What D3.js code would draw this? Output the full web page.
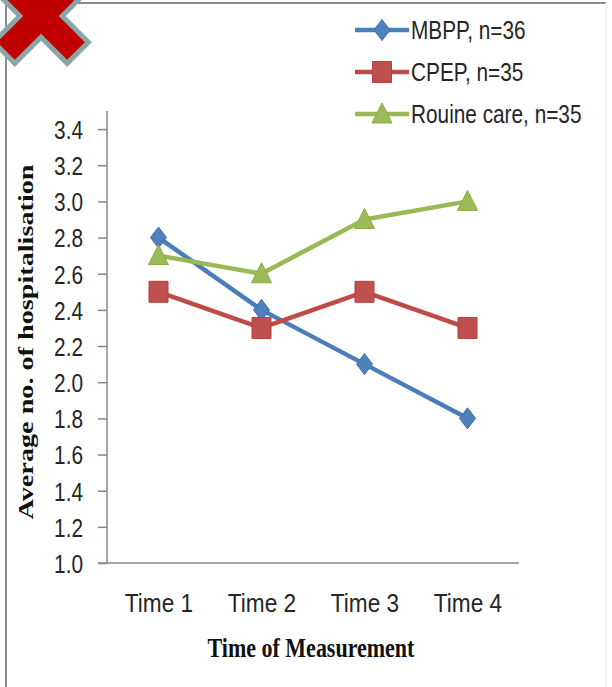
<!DOCTYPE html>
<html><head><meta charset="utf-8">
<script src="https://cdn.jsdelivr.net/npm/d3@7"></script>
<style>html,body{margin:0;padding:0;background:#fff;}svg{display:block;}</style>
</head><body>
<svg id="chart" width="612" height="687"></svg>
<script>
const categories = ["Time 1", "Time 2", "Time 3", "Time 4"];
const seriesNames = ["MBPP, n=36", "CPEP, n=35", "Rouine care, n=35"];
const mbpp = [2.8, 2.4, 2.1, 1.8];
const cpep = [2.5, 2.3, 2.5, 2.3];
const routine = [2.7, 2.6, 2.9, 3.0];
const yTicks = [1.0, 1.2, 1.4, 1.6, 1.8, 2.0, 2.2, 2.4, 2.6, 2.8, 3.0, 3.2, 3.4];
const yTitle = "Average no. of hospitalisation";
const xTitle = "Time of Measurement";

const series = [
  {name: seriesNames[0], values: mbpp, line: "#4a7ebb", fill: "#4f81bd", stroke: "#3d6ea8", shape: "diamond"},
  {name: seriesNames[1], values: cpep, line: "#be4b48", fill: "#c0504d", stroke: "#b5403d", shape: "square"},
  {name: seriesNames[2], values: routine, line: "#98b954", fill: "#9bbb59", stroke: "#8aab48", shape: "triangle"}
];

const SX = 0.8; // horizontal condensing for the Calibri-like look
const sansFont = "'Liberation Sans', Arial, sans-serif";

const svg = d3.select("#chart");
const x = d3.scalePoint().domain(categories).range([107, 519]).padding(0.5);
const y = d3.scaleLinear().domain([1.0, 3.5]).range([563, 111]);

// frame
svg.append("line").attr("x1", 6).attr("x2", 6).attr("y1", 0).attr("y2", 687).attr("stroke", "#8c8c8c").attr("stroke-width", 2);
svg.append("line").attr("x1", 6).attr("x2", 606).attr("y1", 3).attr("y2", 3).attr("stroke", "#8c8c8c").attr("stroke-width", 2);
svg.append("line").attr("x1", 606).attr("x2", 606).attr("y1", 3).attr("y2", 687).attr("stroke", "#ececec").attr("stroke-width", 1.5);

// y axis
const yAxis = d3.axisLeft(y).tickValues(yTicks).tickFormat(d3.format(".1f")).tickSize(9).tickPadding(15);
const gy = svg.append("g").attr("transform", "translate(107,0)").call(yAxis);
gy.select(".domain").attr("stroke", "#868686").attr("stroke-width", 1.5).attr("d", `M0,${y(3.5)}V${y(1.0)}`);
gy.selectAll(".tick line").attr("stroke", "#868686").attr("stroke-width", 1.5);
gy.selectAll(".tick text").attr("font-family", sansFont)
  .attr("font-size", 26).attr("fill", "#262626").attr("dy", "0.36em")
  .attr("x", -24 / SX).attr("transform", `scale(${SX},1)`);

// x axis
const xAxis = d3.axisBottom(x).tickSize(0).tickPadding(49);
const gx = svg.append("g").attr("transform", "translate(0,563)").call(xAxis);
gx.select(".domain").attr("stroke", "#868686").attr("stroke-width", 1.5).attr("d", "M98,0H519");
gx.selectAll(".tick text").attr("font-family", sansFont)
  .attr("font-size", 26).attr("fill", "#262626").attr("dy", 0)
  .attr("transform", "scale(0.87,1)");

// axis titles
svg.append("text").attr("transform", "translate(33,342) rotate(-90)").attr("text-anchor", "middle")
  .attr("font-family", "'Liberation Serif', 'Times New Roman', serif").attr("font-weight", "bold")
  .attr("font-size", 20).attr("fill", "#111").attr("textLength", 355).attr("lengthAdjust", "spacingAndGlyphs")
  .text(yTitle);
svg.append("text").attr("transform", "translate(311,657) scale(1,1.25)").attr("text-anchor", "middle")
  .attr("font-family", "'Liberation Serif', 'Times New Roman', serif").attr("font-weight", "bold")
  .attr("font-size", 22).attr("fill", "#111")
  .text(xTitle);

function markerPath(shape) {
  if (shape === "diamond") return "M0,-10.5L8,0L0,10.5L-8,0Z";
  if (shape === "square") return "M-9.5,-10.5H9.5V10.5H-9.5Z";
  return "M0,-11L10,9H-10Z";
}

const line = d3.line().x((d, i) => x(categories[i])).y(d => y(d));
series.forEach(s => {
  const g = svg.append("g");
  g.append("path").datum(s.values).attr("d", line).attr("fill", "none")
    .attr("stroke", s.line).attr("stroke-width", 4.5).attr("stroke-linejoin", "round");
  g.selectAll("path.m").data(s.values).enter().append("path").attr("class", "m")
    .attr("transform", (d, i) => `translate(${x(categories[i])},${y(d)})`)
    .attr("d", markerPath(s.shape)).attr("fill", s.fill).attr("stroke", s.stroke).attr("stroke-width", 1);
});

// legend
const legend = svg.append("g");
series.forEach((s, i) => {
  const ly = 30 + i * 42;
  legend.append("line").attr("x1", 355).attr("x2", 409).attr("y1", ly).attr("y2", ly)
    .attr("stroke", s.line).attr("stroke-width", 4.5);
  legend.append("path").attr("transform", `translate(382,${ly})`).attr("d", markerPath(s.shape))
    .attr("fill", s.fill).attr("stroke", s.stroke).attr("stroke-width", 1);
  legend.append("text").attr("transform", `translate(411,${ly + 9}) scale(${SX},1)`)
    .attr("font-family", sansFont)
    .attr("font-size", 26).attr("fill", "#262626").text(s.name);
});

// red X mark in the corner
const w = 15, L = 52;
const plus = [[-w,-L],[w,-L],[w,-w],[L,-w],[L,w],[w,w],[w,L],[-w,L],[-w,w],[-L,w],[-L,-w],[-w,-w]];
svg.append("path").attr("transform", "translate(41,16) rotate(45)")
  .attr("d", "M" + plus.map(p => p.join(",")).join("L") + "Z")
  .attr("fill", "#c00000").attr("stroke", "#8aa6a6").attr("stroke-width", 5).attr("stroke-linejoin", "miter");
</script>
</body></html>
